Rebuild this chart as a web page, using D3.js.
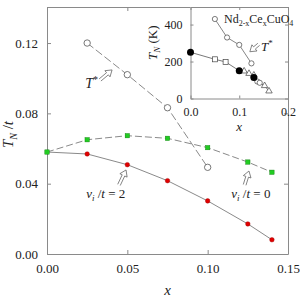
<!DOCTYPE html>
<html>
<head>
<meta charset="utf-8">
<script src="https://cdn.jsdelivr.net/npm/d3@7"></script>
<style>
  body { margin: 0; background: #fff; }
  svg text { font-family: "Liberation Serif", "Times New Roman", serif; fill: #222; }
</style>
</head>
<body>
<div id="chart"></div>
<script>
// main panel data
var xVals = [0, 0.025, 0.05, 0.075, 0.1, 0.125, 0.14];
var tnV0 = [0.058, 0.065, 0.0673, 0.0658, 0.0605, 0.0523, 0.0465];   // v_i/t = 0
var tnV2 = [0.058, 0.0569, 0.0508, 0.0417, 0.0302, 0.0171, 0.0081];  // v_i/t = 2
var tStarX = [0.025, 0.05, 0.075, 0.1];
var tStarY = [0.12, 0.102, 0.0832, 0.0493];
var mainXTicks = [0, 0.05, 0.10, 0.15];
var mainYTicks = [0, 0.04, 0.08, 0.12];

// inset data (Nd2-xCexCuO4)
var insetTStar = [[0.05, 430], [0.075, 330], [0.1, 290], [0.125, 190]];
var insetTN = [[0, 250], [0.05, 212], [0.072, 198], [0.1, 150], [0.11, 148], [0.12, 135], [0.13, 126],
               [0.13, 114], [0.137, 92], [0.142, 85], [0.152, 69], [0.161, 40]];
var insetFilled = [[0, 250], [0.1, 150], [0.13, 114]];
var insetSquares = [[0.05, 212], [0.072, 198]];
var insetOpen = [[0.137, 92], [0.142, 85]];
var insetTri = [[0.11, 148], [0.12, 135], [0.13, 126], [0.152, 69], [0.161, 40]];
var insetXTicks = [0, 0.1, 0.2];
var insetYTicks = [0, 200, 400];

var svgWidth = 300, svgHeight = 300;
var margin = {top: 7, right: 12, bottom: 46, left: 47};
var chartWidth = svgWidth - margin.left - margin.right;
var chartHeight = svgHeight - margin.top - margin.bottom;

var svg = d3.select("#chart").append("svg")
    .attr("width", svgWidth)
    .attr("height", svgHeight);

var x = d3.scaleLinear().domain([0, 0.15]).range([margin.left, margin.left + chartWidth]);
var y = d3.scaleLinear().domain([0, 0.1405]).range([margin.top + chartHeight, margin.top]);

var axisColor = "#8a8a8a";

// axes, ticks inward on all four sides
function drawAxes(g, xs, ys, xt, yt, xf, yf, fs, tickLen) {
    var x0 = xs.range()[0], x1 = xs.range()[1], y0 = ys.range()[0], y1 = ys.range()[1];
    function styleAxis(a) {
        a.attr("font-family", null).attr("font-size", null);
        a.select(".domain").attr("stroke", axisColor);
        a.selectAll("line").attr("stroke", axisColor);
        a.selectAll("text").style("font-size", fs + "px").attr("fill", "#222");
    }
    g.append("g").attr("transform", `translate(0,${y0})`)
        .call(d3.axisBottom(xs).tickValues(xt).tickFormat(xf).tickSizeInner(-tickLen).tickSizeOuter(0).tickPadding(tickLen + 6))
        .call(styleAxis);
    g.append("g").attr("transform", `translate(${x0},0)`)
        .call(d3.axisLeft(ys).tickValues(yt).tickFormat(yf).tickSizeInner(-tickLen).tickSizeOuter(0).tickPadding(tickLen + 5))
        .call(styleAxis);
    g.append("g").attr("transform", `translate(0,${y1})`)
        .call(d3.axisTop(xs).tickValues(xt).tickFormat("").tickSizeInner(-tickLen).tickSizeOuter(0))
        .call(styleAxis);
    g.append("g").attr("transform", `translate(${x1},0)`)
        .call(d3.axisRight(ys).tickValues(yt).tickFormat("").tickSizeInner(-tickLen).tickSizeOuter(0))
        .call(styleAxis);
}

drawAxes(svg.append("g"), x, y, mainXTicks, mainYTicks, d3.format(".2f"), d3.format(".2f"), 13, 4);

// hollow double-line arrow from tail to tip
function hollowArrow(g, xa, ya, xb, yb) {
    var dx = xb - xa, dy = yb - ya, len = Math.sqrt(dx * dx + dy * dy);
    var ux = dx / len, uy = dy / len, px = -uy, py = ux;
    var hw = 1.4, headLen = 6, headW = 4;
    var bx = xb - ux * headLen, by = yb - uy * headLen;
    var pts = [
        [xa + px * hw, ya + py * hw], [bx + px * hw, by + py * hw], [bx + px * headW, by + py * headW],
        [xb, yb],
        [bx - px * headW, by - py * headW], [bx - px * hw, by - py * hw], [xa - px * hw, ya - py * hw]
    ];
    g.append("path")
        .attr("d", d3.line()(pts))
        .attr("fill", "none")
        .attr("stroke", "#666")
        .attr("stroke-width", 0.8);
}

var lineGray = "#8a8a8a";
var mainLine = d3.line().x(d => x(d[0])).y(d => y(d[1]));

// T* dashed line with open circles
var tStar = tStarX.map((v, i) => [v, tStarY[i]]);
svg.append("path").attr("d", mainLine(tStar))
    .attr("fill", "none").attr("stroke", lineGray).attr("stroke-width", 1).attr("stroke-dasharray", "8,3");
svg.selectAll(".tstar").data(tStar).enter().append("circle")
    .attr("cx", d => x(d[0])).attr("cy", d => y(d[1])).attr("r", 3.2)
    .attr("fill", "#fff").attr("stroke", "#555").attr("stroke-width", 0.8);

// v_i/t = 0 dashed with green squares
var v0 = xVals.map((v, i) => [v, tnV0[i]]);
svg.append("path").attr("d", mainLine(v0))
    .attr("fill", "none").attr("stroke", lineGray).attr("stroke-width", 1).attr("stroke-dasharray", "7,3");

// v_i/t = 2 solid with red circles
var v2 = xVals.map((v, i) => [v, tnV2[i]]);
svg.append("path").attr("d", mainLine(v2))
    .attr("fill", "none").attr("stroke", lineGray).attr("stroke-width", 1);
svg.selectAll(".red").data(v2.slice(1)).enter().append("circle")
    .attr("cx", d => x(d[0])).attr("cy", d => y(d[1])).attr("r", 2.3)
    .attr("fill", "#e00000").attr("stroke", "#900").attr("stroke-width", 0.4);
svg.selectAll(".green").data(v0).enter().append("rect")
    .attr("x", d => x(d[0]) - 2.2).attr("y", d => y(d[1]) - 2.2).attr("width", 4.4).attr("height", 4.4)
    .attr("fill", "#22cc22").attr("stroke", "#0a7a0a").attr("stroke-width", 0.4);

// annotations in the main panel
hollowArrow(svg, x(0.033), y(0.099), x(0.0405), y(0.1047));
var tLab = svg.append("text").attr("x", x(0.0238)).attr("y", y(0.0945)).style("font-size", "14px");
tLab.append("tspan").style("font-style", "italic").text("T");
tLab.append("tspan").attr("dy", -5).style("font-size", "10px").text("*");

hollowArrow(svg, x(0.0448), y(0.0393), x(0.0492), y(0.0478));
var l2 = svg.append("text").attr("x", x(0.0244)).attr("y", y(0.0318)).style("font-size", "13px");
l2.append("tspan").style("font-style", "italic").text("v");
l2.append("tspan").attr("dy", 3).style("font-size", "9px").style("font-style", "italic").text("i");
l2.append("tspan").attr("dy", -3).text(" /");
l2.append("tspan").style("font-style", "italic").text("t");
l2.append("tspan").text(" = 2");

hollowArrow(svg, x(0.123), y(0.0393), x(0.1257), y(0.0472));
var l0 = svg.append("text").attr("x", x(0.1147)).attr("y", y(0.0318)).style("font-size", "13px");
l0.append("tspan").style("font-style", "italic").text("v");
l0.append("tspan").attr("dy", 3).style("font-size", "9px").style("font-style", "italic").text("i");
l0.append("tspan").attr("dy", -3).text(" /");
l0.append("tspan").style("font-style", "italic").text("t");
l0.append("tspan").text(" = 0");

// axis titles
var yt = svg.append("text")
    .attr("transform", `translate(13,${(margin.top + margin.top + chartHeight) / 2 + 4}) rotate(-90)`)
    .attr("text-anchor", "middle").style("font-size", "15px");
yt.append("tspan").style("font-style", "italic").text("T");
yt.append("tspan").attr("dy", 4).style("font-size", "10px").style("font-style", "italic").text("N");
yt.append("tspan").attr("dy", -4).text(" /");
yt.append("tspan").style("font-style", "italic").text("t");

svg.append("text")
    .attr("x", margin.left + chartWidth / 2).attr("y", 295)
    .attr("text-anchor", "middle").style("font-size", "15px").style("font-style", "italic")
    .text("x");

// ---- inset ----
var ix = d3.scaleLinear().domain([0, 0.2]).range([190.5, margin.left + chartWidth]);
var iy = d3.scaleLinear().domain([0, 495]).range([98.5, margin.top]);
var inset = svg.append("g");
inset.append("rect")
    .attr("x", ix(0)).attr("y", iy(495)).attr("width", ix(0.2) - ix(0)).attr("height", iy(0) - iy(495))
    .attr("fill", "#fff");
drawAxes(inset, ix, iy, insetXTicks, insetYTicks, d3.format(".1f"), d3.format("d"), 12, 3);

var insetLine = d3.line().x(d => ix(d[0])).y(d => iy(d[1]));
inset.append("path").attr("d", insetLine(insetTStar))
    .attr("fill", "none").attr("stroke", "#666").attr("stroke-width", 0.8);
inset.append("path").attr("d", insetLine(insetTN))
    .attr("fill", "none").attr("stroke", "#555").attr("stroke-width", 0.8);

inset.selectAll(".its").data(insetTStar.concat(insetOpen)).enter().append("circle")
    .attr("cx", d => ix(d[0])).attr("cy", d => iy(d[1])).attr("r", 2.6)
    .attr("fill", "#fff").attr("stroke", "#444").attr("stroke-width", 0.7);
inset.selectAll(".isq").data(insetSquares).enter().append("rect")
    .attr("x", d => ix(d[0]) - 2.5).attr("y", d => iy(d[1]) - 2.5).attr("width", 5).attr("height", 5)
    .attr("fill", "#fff").attr("stroke", "#444").attr("stroke-width", 0.7);
inset.selectAll(".itr").data(insetTri).enter().append("path")
    .attr("transform", d => `translate(${ix(d[0])},${iy(d[1])})`)
    .attr("d", d3.symbol().type(d3.symbolTriangle).size(18))
    .attr("fill", "#fff").attr("stroke", "#444").attr("stroke-width", 0.7);
inset.selectAll(".ifc").data(insetFilled).enter().append("circle")
    .attr("cx", d => ix(d[0])).attr("cy", d => iy(d[1])).attr("r", 3.5)
    .attr("fill", "#000");

hollowArrow(inset, ix(0.140), iy(293), ix(0.1217), iy(253));
var it = inset.append("text").attr("x", ix(0.1445)).attr("y", iy(255)).style("font-size", "13px");
it.append("tspan").style("font-style", "italic").text("T");
it.append("tspan").attr("dy", -5).style("font-size", "9px").text("*");

var nd = inset.append("text").attr("x", 224).attr("y", 23).style("font-size", "12px");
nd.append("tspan").text("Nd");
nd.append("tspan").attr("dy", 3).style("font-size", "8px").text("2-x");
nd.append("tspan").attr("dy", -3).text("Ce");
nd.append("tspan").attr("dy", 3).style("font-size", "8px").text("x");
nd.append("tspan").attr("dy", -3).text("CuO");
nd.append("tspan").attr("dy", 3).style("font-size", "8px").text("4");

var iyt = inset.append("text")
    .attr("transform", `translate(157,${(iy(0) + iy(495)) / 2 - 10}) rotate(-90)`)
    .attr("text-anchor", "middle").style("font-size", "13px");
iyt.append("tspan").style("font-style", "italic").text("T");
iyt.append("tspan").attr("dy", 3).style("font-size", "9px").style("font-style", "italic").text("N");
iyt.append("tspan").attr("dy", -3).text(" (K)");

inset.append("text")
    .attr("x", ix(0.1)).attr("y", 131)
    .attr("text-anchor", "middle").style("font-size", "13px").style("font-style", "italic")
    .text("x");
</script>
</body>
</html>
